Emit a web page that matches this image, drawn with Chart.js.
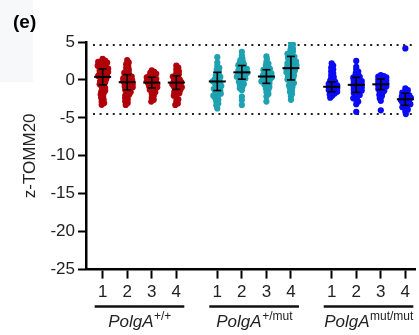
<!DOCTYPE html>
<html>
<head>
<meta charset="utf-8">
<script src="https://cdn.jsdelivr.net/npm/chart.js@4.4.0/dist/chart.umd.min.js"></script>
<style>
  html, body { margin: 0; padding: 0; background: #fff; }
  #wrap { width: 419px; height: 335px; }
</style>
</head>
<body>
<div id="wrap"><canvas id="chart" width="419" height="335"></canvas></div>
<script>
// tick labels and groups
const tickLabels = ['1', '2', '3', '4', '1', '2', '3', '4', '1', '2', '3', '4'];
const groupSup = ['+/+', '+/mut', 'mut/mut'];
const groupColors = ['#b0000a', '#1ea1b1', '#0a0af5'];
const yTitle = 'z-TOMM20';

// z-scores per replicate
const wt1 = [2.78, 2.55, 2.45, 2.38, 2.27, 2.16, 2.05, 1.96, 1.87, 1.75, 1.63, 1.52, 1.48, 1.36, 1.25, 1.14, 1.03,
  0.97, 0.86, 0.74, 0.62, 0.53, 0.46, 0.33, 0.21, 0.08, -0.05, -0.18, -0.31, -0.44, -0.58, -0.72, -0.9,
  -1.06, -1.25, -1.42, -1.58, -1.76, -1.93, -2.12, -2.36, -2.58, -2.84, -3.05, -3.28];
const wt2 = [2.62, 2.31, 2.08, 1.84, 1.6, 1.42, 1.23, 1.05, 0.94, 0.8, 0.66, 0.53, 0.44, 0.33, 0.22, 0.11, 0.02,
  -0.07, -0.17, -0.28, -0.38, -0.47, -0.55, -0.66, -0.76, -0.86, -0.96, -1.07, -1.2, -1.33, -1.45,
  -1.6, -1.75, -1.91, -2.05, -2.22, -2.41, -2.6, -2.82, -3.05, -3.3];
const wt3 = [1.25, 1.08, 0.93, 0.8, 0.66, 0.54, 0.45, 0.34, 0.24, 0.13, 0.03, -0.07, -0.17, -0.28, -0.38, -0.47,
  -0.56, -0.66, -0.76, -0.86, -0.95, -1.06, -1.18, -1.31, -1.44, -1.62, -1.85, -2.1, -2.36, -2.62, -2.85];
const wt4 = [1.88, 1.62, 1.38, 1.15, 0.92, 0.74, 0.57, 0.44, 0.31, 0.18, 0.05, -0.06, -0.16, -0.27, -0.37, -0.47,
  -0.56, -0.66, -0.77, -0.87, -0.96, -1.07, -1.2, -1.32, -1.45, -1.58, -1.74, -1.9, -2.08, -2.3,
  -2.55, -2.8, -3.1, -3.3];
const het1 = [3.0, 2.3, 1.86, 1.6, 1.37, 1.12, 0.9, 0.72, 0.55, 0.4, 0.24, 0.08, -0.05, -0.18, -0.31, -0.44,
  -0.56, -0.68, -0.8, -0.93, -1.04, -1.16, -1.29, -1.42, -1.55, -1.68, -1.82, -1.95, -2.08, -2.25, -2.42,
  -2.6, -2.85, -3.1, -3.35, -3.75];
const het2 = [3.7, 3.2, 2.85, 2.6, 2.42, 2.25, 2.08, 1.95, 1.82, 1.68, 1.55, 1.46, 1.35, 1.24, 1.13, 1.03,
  0.95, 0.84, 0.73, 0.62, 0.52, 0.43, 0.31, 0.19, 0.07, -0.08, -0.24, -0.4, -0.55, -0.72, -0.9,
  -1.1, -1.35, -2.2, -2.65, -3.3];
const het3 = [3.1, 2.75, 2.4, 2.15, 1.95, 1.75, 1.55, 1.45, 1.33, 1.2, 1.06, 0.96, 0.86, 0.75, 0.64, 0.53,
  0.45, 0.35, 0.24, 0.13, 0.03, -0.08, -0.2, -0.33, -0.45, -0.6, -0.76, -0.92, -1.1, -1.32, -1.58, -1.85,
  -2.2, -2.85];
const het4 = [4.92, 4.66, 4.38, 4.12, 3.92, 3.74, 3.56, 3.45, 3.32, 3.18, 3.05, 2.94, 2.8, 2.66, 2.53,
  2.45, 2.34, 2.23, 2.12, 2.02, 1.95, 1.84, 1.73, 1.62, 1.52, 1.45, 1.34, 1.23, 1.12, 1.02,
  0.92, 0.78, 0.65, 0.53, 0.42, 0.3, 0.17, 0.05, -0.1, -0.26, -0.42, -0.58, -0.75, -0.92, -1.1, -1.35,
  -1.6, -1.85, -2.2, -2.62];
const mut1 = [2.2, 1.9, 1.62, 1.38, 1.12, 0.88, 0.64, 0.42, 0.24, 0.06, -0.1, -0.26, -0.42, -0.53, -0.62, -0.72,
  -0.82, -0.92, -1.02, -1.12, -1.22, -1.33, -1.44, -1.56, -1.68, -1.8, -1.93, -2.1, -2.35];
const mut2 = [2.5, 1.72, 1.36, 1.1, 0.9, 0.72, 0.55, 0.42, 0.3, 0.17, 0.05, -0.05, -0.15, -0.26, -0.36, -0.46,
  -0.55, -0.65, -0.75, -0.86, -0.96, -1.06, -1.17, -1.28, -1.39, -1.49, -1.6, -1.72, -1.85, -1.97,
  -2.1, -2.26, -2.42, -2.6, -2.85, -3.2, -4.2];
const mut3 = [0.65, 0.52, 0.44, 0.34, 0.24, 0.14, 0.04, -0.06, -0.16, -0.26, -0.36, -0.46, -0.55, -0.65, -0.75,
  -0.85, -0.95, -1.06, -1.18, -1.3, -1.43, -1.6, -1.78, -1.95, -2.15, -2.4, -2.75, -4.0];
const mut4 = [4.15, -1.12, -1.35, -1.55, -1.67, -1.8, -1.93, -2.04, -2.14, -2.25, -2.36, -2.46,
  -2.55, -2.65, -2.76, -2.87, -2.97, -3.08, -3.2, -3.33, -3.45, -3.6, -3.75, -3.92, -4.15, -4.5];

// mean and SD bars
const means = [0.4, -0.3, -0.35, -0.35, -0.2, 1.0, 0.45, 1.55, -0.9, -0.65, -0.58, -2.55];
const sds = [1.05, 1.0, 0.7, 0.9, 1.2, 0.9, 0.9, 1.55, 0.65, 1.0, 0.7, 0.8];
const cutoffs = [4.6, -4.5];

const series = [wt1, wt2, wt3, wt4, het1, het2, het3, het4, mut1, mut2, mut3, mut4];

// slot of each replicate on the x axis (groups separated by a gap)
const catX = [0, 1, 2, 3, 4.67, 5.67, 6.67, 7.67, 9.33, 10.33, 11.33, 12.33];
const FONT = 'Liberation Sans, Arial, Helvetica, sans-serif';

const datasets = series.map((vals, i) => ({
    data: vals.map(v => ({ x: catX[i], y: v })),
    backgroundColor: groupColors[Math.floor(i / 4)],
    borderWidth: 0,
    pointRadius: 3.1,
    pointHoverRadius: 3.1
}));

function line(ctx, x0, y0, x1, y1) {
    ctx.beginPath();
    ctx.moveTo(x0, y0);
    ctx.lineTo(x1, y1);
    ctx.stroke();
}

const decor = {
    id: 'decor',
    beforeDraw(chart) {
        const ctx = chart.ctx;
        ctx.save();
        ctx.fillStyle = '#f7f8fa';
        ctx.fillRect(0, 0, 33, 82);
        ctx.restore();
    },
    beforeDatasetsDraw(chart) {
        const { ctx, scales: { y }, chartArea } = chart;
        ctx.save();
        ctx.strokeStyle = '#222';
        ctx.lineWidth = 2;
        ctx.setLineDash([2, 4.6]);
        cutoffs.forEach(c => {
            const py = y.getPixelForValue(c);
            line(ctx, chartArea.left + 7, py, chartArea.right, py);
        });
        ctx.restore();
    },
    afterDatasetsDraw(chart) {
        const { ctx, scales: { x, y } } = chart;
        ctx.save();
        ctx.strokeStyle = '#000';
        means.forEach((m, i) => {
            const cx = x.getPixelForValue(catX[i]);
            const pm = y.getPixelForValue(m);
            const pt = y.getPixelForValue(m + sds[i]);
            const pb = y.getPixelForValue(m - sds[i]);
            ctx.lineWidth = 2;
            line(ctx, cx - 8.5, pm, cx + 8.5, pm);
            ctx.lineWidth = 1.6;
            line(ctx, cx, pt, cx, pb);
            line(ctx, cx - 4, pt, cx + 4, pt);
            line(ctx, cx - 4, pb, cx + 4, pb);
        });
        ctx.restore();
    },
    afterDraw(chart) {
        const { ctx, scales: { x }, chartArea } = chart;
        ctx.save();
        ctx.fillStyle = '#000';
        ctx.font = 'bold 19px ' + FONT;
        ctx.textBaseline = 'alphabetic';
        ctx.fillText('(e)', 13, 28);

        groupSup.forEach((sup, g) => {
            const a = x.getPixelForValue(catX[g * 4]);
            const b = x.getPixelForValue(catX[g * 4 + 3]);
            ctx.strokeStyle = '#111';
            ctx.lineWidth = 2.5;
            line(ctx, a - 8, chartArea.bottom + 37, b + 8, chartArea.bottom + 37);

            ctx.fillStyle = '#222';
            ctx.font = 'italic 17px ' + FONT;
            const w1 = ctx.measureText('PolgA').width;
            ctx.font = '12px ' + FONT;
            const w2 = ctx.measureText(sup).width;
            const left = (a + b) / 2 - (w1 + w2) / 2;
            ctx.font = 'italic 17px ' + FONT;
            ctx.fillText('PolgA', left, 327);
            ctx.font = '12px ' + FONT;
            ctx.fillText(sup, left + w1 + 0.5, 320);
        });
        ctx.restore();
    }
};

const chart = new Chart(document.getElementById('chart'), {
    type: 'scatter',
    data: { datasets },
    options: {
        responsive: false,
        animation: false,
        events: [],
        layout: { padding: { left: 20, top: 42, right: 0, bottom: 28 } },
        plugins: { legend: { display: false }, tooltip: { enabled: false } },
        scales: {
            x: {
                type: 'linear',
                min: -0.68,
                max: 12.76,
                afterBuildTicks: s => { s.ticks = catX.map(v => ({ value: v })); },
                ticks: {
                    autoSkip: false,
                    maxRotation: 0,
                    padding: 4,
                    color: '#222',
                    font: { family: FONT, size: 17 },
                    callback: (v, i) => tickLabels[i]
                },
                grid: { drawOnChartArea: false, drawTicks: true, tickLength: 9, tickWidth: 2, tickColor: '#000' },
                border: { display: true, color: '#000', width: 2.5 }
            },
            y: {
                min: -25,
                max: 5,
                ticks: {
                    stepSize: 5,
                    padding: 3,
                    color: '#222',
                    font: { family: FONT, size: 17 },
                    callback: v => String(v)
                },
                title: {
                    display: true,
                    text: yTitle,
                    color: '#222',
                    font: { family: FONT, size: 17 },
                    padding: { top: 0, bottom: 7 }
                },
                grid: { drawOnChartArea: false, drawTicks: true, tickLength: 8, tickWidth: 2, tickColor: '#000' },
                border: { display: true, color: '#000', width: 2.5 }
            }
        }
    },
    plugins: [decor]
});

// spread each replicate sideways like a bee swarm, in pixel space
function swarm() {
    const xs = chart.scales.x, ys = chart.scales.y;
    const unit = xs.getPixelForValue(1) - xs.getPixelForValue(0);
    const D = 2.7;
    series.forEach((vals, i) => {
        const placed = [];
        const data = chart.data.datasets[i].data;
        const order = vals.map((v, k) => k).sort((a, b) => vals[b] - vals[a]);
        order.forEach(k => {
            const py = ys.getPixelForValue(vals[k]);
            let best = 0;
            for (let s = 0; s < 80; s++) {
                const dx = (s % 2 ? 1 : -1) * Math.ceil(s / 2) * 0.5;
                if (placed.every(p => (p[0] - dx) ** 2 + (p[1] - py) ** 2 >= D * D)) { best = dx; break; }
            }
            placed.push([best, py]);
            data[k] = { x: catX[i] + best / unit, y: vals[k] };
        });
    });
    chart.update('none');
}
swarm();
</script>
</body>
</html>
